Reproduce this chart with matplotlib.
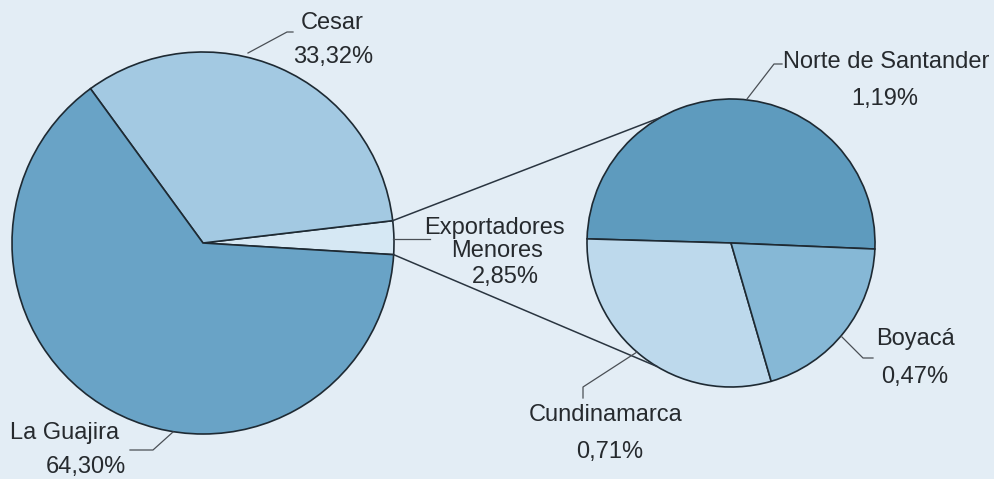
import numpy as np
import matplotlib
matplotlib.use("Agg")
import matplotlib.pyplot as plt

# ---- data ----
main_labels = ["Exportadores\nMenores", "Cesar", "La Guajira"]
main_values = [2.85, 33.32, 64.30]
main_pct = ["2,85%", "33,32%", "64,30%"]

sub_labels = ["Norte de Santander", "Cundinamarca", "Boyacá"]
sub_values = [1.19, 0.71, 0.47]
sub_pct = ["1,19%", "0,71%", "0,47%"]

main_colors = ["#d6e8f4", "#a3c9e2", "#69a3c6"]
sub_colors = ["#5e9bbe", "#bdd9ec", "#86b8d6"]
bg = "#e3edf5"
txt = "#262a2e"
lead = "#4a4f55"

W, H = 994, 479
plt.rcParams["font.family"] = ["Liberation Sans", "DejaVu Sans"]
fig = plt.figure(figsize=(W / 100, H / 100), dpi=100)
fig.patch.set_facecolor(bg)
ax = fig.add_axes([0, 0, 1, 1])
ax.set_facecolor(bg)


def Y(py):
    return H - py


c1 = (203, Y(243)); r1 = 191
c2 = (731, Y(243)); r2 = 144

w1, _ = ax.pie(main_values, colors=main_colors, startangle=-3.5, counterclock=True,
               center=c1, radius=r1, frame=True,
               wedgeprops=dict(edgecolor="#1e2a33", linewidth=1.2))
w2, _ = ax.pie(sub_values, colors=sub_colors, startangle=-2.4, counterclock=True,
               center=c2, radius=r2, frame=True,
               wedgeprops=dict(edgecolor="#1e2a33", linewidth=1.2))

# connector lines between the Exportadores wedge and the sub pie
ex = w1[0]
for th, th2 in [(ex.theta2, 119.5), (ex.theta1, 239.0)]:
    x0 = c1[0] + r1 * np.cos(np.radians(th)); y0 = c1[1] + r1 * np.sin(np.radians(th))
    x1 = c2[0] + r2 * np.cos(np.radians(th2)); y1 = c2[1] + r2 * np.sin(np.radians(th2))
    ax.plot([x0, x1], [y0, y1], color="#2a3540", lw=1.1, zorder=3)

fs = 17
# leader lines (pixel coords)
leaders = [
    [(248, 53), (287, 32), (293, 32)],              # Cesar
    [(173, 432), (153, 450), (130, 450)],           # La Guajira
    [(393, 239), (430, 239)],                       # Exportadores
    [(747, 99), (774, 64), (782, 64)],              # Norte de Santander
    [(842, 337), (863, 358), (873, 358)],           # Boyaca
    [(637, 352), (583, 387), (583, 398)],           # Cundinamarca
]
for pts in leaders:
    xs = [p[0] for p in pts]; ys = [Y(p[1]) for p in pts]
    ax.plot(xs, ys, color=lead, lw=0.9, zorder=3)

def T(x, y, s, ha="center"):
    ax.text(x, Y(y), s, ha=ha, va="center", fontsize=fs, color=txt, zorder=4)

T(332, 23, main_labels[1]); T(333, 57, main_pct[1])
T(65, 433, main_labels[2]); T(86, 467, main_pct[2])
name_lines = main_labels[0].split("\n")
T(494, 228, name_lines[0]); T(497, 251, name_lines[1]); T(505, 277, main_pct[0])
T(783, 62, sub_labels[0], ha="left"); T(885, 99, sub_pct[0])
T(606, 415, sub_labels[1]); T(610, 452, sub_pct[1])
T(915, 339, sub_labels[2]); T(915, 377, sub_pct[2])

ax.set_xlim(0, W)
ax.set_ylim(0, H)
ax.set_aspect("equal")
ax.axis("off")
fig.savefig("out.png", dpi=100, facecolor=bg)
